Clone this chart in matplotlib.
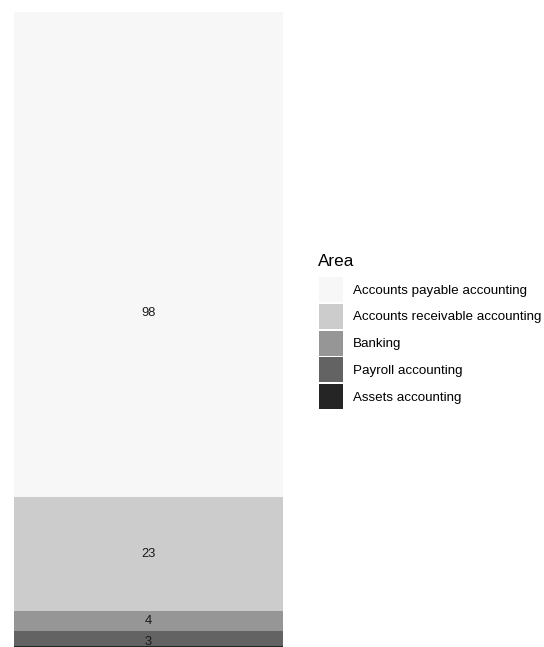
import matplotlib as mpl
mpl.use('Agg')
import matplotlib.pyplot as plt
from matplotlib.patches import Patch

plt.rcParams['font.family'] = ['Liberation Sans', 'DejaVu Sans']

areas = ["Accounts payable accounting", "Accounts receivable accounting",
         "Banking", "Payroll accounting", "Assets accounting"]
counts = [98, 23, 4, 3, 1]
colors = ["#f7f7f7", "#cccccc", "#969696", "#636363", "#252525"]
# where the count label sits inside each segment (0 = bottom, 1 = top);
# None = label falls outside the cropped picture
label_vjust = [0.38, 0.5, 0.5, 0.25, None]

fig = plt.figure(figsize=(5.44, 6.47), dpi=100)
# bar runs past the bottom edge, as in the cropped original
ax = fig.add_axes([14/544, -3.6/647, 269/544, 638.6/647])

# stack from bottom: assets first, payable on top
bottom = 0
for i in reversed(range(len(areas))):
    ax.bar(0, counts[i], bottom=bottom, width=1.0, color=colors[i], linewidth=0)
    if label_vjust[i] is not None:
        ax.text(0, bottom + counts[i] * label_vjust[i], str(counts[i]),
                ha='center', va='center', fontsize=9.3, color='#1a1a1a')
    bottom += counts[i]

ax.set_xlim(-0.5, 0.5)
ax.set_ylim(0, sum(counts))
ax.axis('off')

fig.text(318/544, 1 - 266/647, "Area", fontsize=12.3, va='baseline', ha='left')
handles = [Patch(facecolor=c, edgecolor='none') for c in colors]
leg = fig.legend(handles, areas, loc='upper left',
                 bbox_to_anchor=(319/544, 1 - 277/647), frameon=False,
                 fontsize=9.6, handlelength=1.8, handleheight=2.51,
                 labelspacing=0.13, handletextpad=0.75,
                 borderaxespad=0, borderpad=0)

fig.savefig('out.png', dpi=100)
